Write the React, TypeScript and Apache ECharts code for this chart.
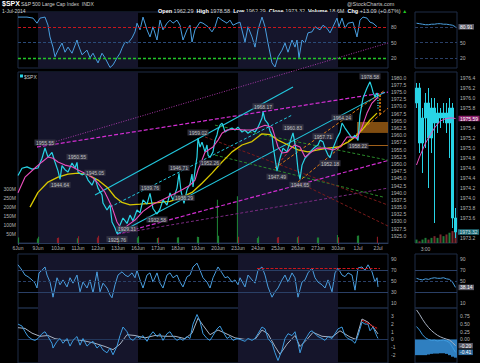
import React, { useEffect, useRef } from "react";
import * as echarts from "echarts";

// ---------- data ----------
const dayLabels = ["6Jun","9Jun","10Jun","11Jun","12Jun","13Jun","16Jun","17Jun","18Jun","19Jun","20Jun","23Jun","24Jun","25Jun","26Jun","27Jun","30Jun","1Jul","2Jul"];
const shadedWeeks: [number, number][] = [[1, 6], [11, 16]];

const priceSeries: [number, number][] = [
  [0,1946.0],[0.2,1948.5],[0.45,1949.0],[0.7,1948.2],[1.0,1948.6],[1.2,1952.0],[1.35,1955.55],[1.5,1952.4],[1.7,1954.0],[1.85,1950.7],
  [2.0,1947.6],[2.1,1944.64],[2.2,1949.4],[2.35,1948.0],[2.5,1947.2],[2.7,1950.3],[2.85,1948.6],[2.95,1950.55],[3.0,1947.2],[3.2,1946.2],
  [3.35,1946.8],[3.5,1944.4],[3.7,1942.6],[3.85,1945.05],[4.0,1941.6],[4.2,1939.2],[4.25,1936.4],[4.45,1934.0],[4.6,1935.7],[4.7,1929.8],
  [4.85,1927.7],[4.95,1925.76],[5.1,1928.8],[5.25,1931.2],[5.45,1929.31],[5.6,1932.2],[5.75,1930.2],[5.95,1934.0],[6.1,1933.0],[6.25,1937.5],
  [6.45,1936.0],[6.6,1939.76],[6.75,1934.5],[6.95,1932.58],[7.1,1934.3],[7.25,1937.5],[7.45,1935.7],[7.6,1939.9],[7.75,1937.5],[7.95,1941.6],
  [8.05,1946.71],[8.15,1940.5],[8.3,1936.29],[8.45,1941.0],[8.6,1943.0],[8.7,1946.5],[8.75,1942.0],[8.85,1947.9],[8.95,1952.4],[9.0,1959.02],
  [9.1,1955.9],[9.2,1957.6],[9.35,1954.2],[9.45,1956.6],[9.5,1953.1],[9.6,1952.26],[9.75,1954.2],[9.85,1958.3],[9.95,1960.1],[10.0,1961.8],
  [10.1,1963.5],[10.2,1964.2],[10.25,1963.5],[10.35,1961.1],[10.5,1961.8],[10.7,1962.5],[10.85,1961.8],[11.0,1962.8],[11.2,1961.1],[11.35,1961.8],
  [11.5,1960.7],[11.7,1961.8],[11.85,1961.1],[12.0,1962.8],[12.2,1966.0],[12.25,1968.17],[12.35,1965.3],[12.5,1964.0],[12.6,1961.5],[12.7,1960.0],
  [12.75,1956.6],[12.85,1952.0],[12.95,1947.49],[13.1,1952.0],[13.25,1955.5],[13.45,1954.2],[13.6,1957.6],[13.75,1960.83],[13.9,1955.0],[14.0,1948.0],
  [14.1,1944.65],[14.2,1949.6],[14.35,1952.0],[14.5,1953.1],[14.7,1954.9],[14.85,1955.9],[15.0,1956.6],[15.1,1958.3],[15.25,1957.71],[15.35,1955.5],
  [15.5,1953.1],[15.6,1952.18],[15.75,1955.5],[15.95,1959.0],[16.1,1961.0],[16.2,1964.24],[16.35,1962.5],[16.5,1961.0],[16.7,1959.0],[16.85,1960.0],
  [17.0,1958.22],[17.1,1967.0],[17.25,1972.9],[17.45,1976.4],[17.6,1978.58],[17.7,1976.4],[17.75,1975.0],[17.85,1973.3],[17.95,1974.7],[18.0,1973.32]
];
const maFast: [number, number][] = [
  [0,1940.0],[0.35,1945.4],[0.85,1948.6],[1.2,1950.7],[1.5,1952.4],[1.75,1952.0],[2.0,1950.7],[2.35,1949.6],[2.7,1949.0],[3.0,1947.9],
  [3.35,1946.8],[3.7,1945.4],[4.0,1943.3],[4.35,1940.1],[4.7,1935.0],[4.95,1929.8],[5.2,1927.0],[5.5,1928.7],[5.85,1930.5],[6.25,1933.5],
  [6.75,1936.0],[7.25,1937.6],[7.75,1939.4],[8.25,1941.2],[8.6,1942.6],[8.85,1944.4],[9.0,1947.9],[9.2,1951.4],[9.35,1954.1],[9.5,1954.8],
  [9.75,1955.9],[10.0,1958.3],[10.2,1960.7],[10.45,1961.8],[10.85,1962.1],[11.35,1961.8],[11.7,1961.8],[12.0,1962.5],[12.35,1963.5],[12.7,1962.8],
  [12.85,1959.4],[13.0,1955.9],[13.2,1953.8],[13.45,1954.1],[13.7,1955.9],[13.85,1956.6],[14.1,1955.9],[14.35,1952.4],[14.6,1953.8],[14.95,1955.5],
  [15.35,1955.5],[15.75,1954.9],[16.1,1955.9],[16.45,1959.4],[16.7,1959.4],[16.95,1959.0],[17.2,1962.8],[17.45,1967.7],[17.7,1971.2],[18.0,1973.3]
];
const maSlow: [number, number][] = [
  [0.6,1935.0],[1.0,1940.1],[1.5,1943.7],[2.0,1945.4],[2.5,1946.5],[3.0,1946.8],[3.5,1946.2],[4.0,1944.4],[4.5,1941.6],[4.85,1938.5],
  [5.2,1936.6],[5.6,1935.8],[6.1,1936.0],[6.6,1936.3],[7.1,1936.6],[7.6,1937.0],[8.1,1938.1],[8.7,1940.1],[9.2,1943.3],[9.7,1946.8],
  [10.2,1950.7],[10.7,1954.2],[11.2,1956.6],[11.7,1957.8],[12.2,1960.5],[12.6,1960.2],[13.0,1958.3],[13.5,1956.6],[14.0,1954.9],[14.5,1954.2],
  [15.0,1954.9],[15.5,1955.5],[16.0,1955.9],[16.5,1957.6],[16.85,1959.4],[17.2,1961.8],[17.6,1965.3],[17.95,1967.7]
];
const annoTimes = [1.35,2.1,2.95,3.85,4.95,5.45,6.6,6.95,8.05,8.3,9.0,9.6,12.25,12.95,13.75,14.1,15.25,15.6,16.2,17.0,17.6];
const annoPrices = [1955.55,1944.64,1950.55,1945.05,1925.76,1929.31,1939.76,1932.58,1946.71,1936.29,1959.02,1952.26,1968.17,1947.49,1960.83,1944.65,1957.71,1952.18,1964.24,1958.22,1978.58];
const annoAbove = [1,0,1,1,0,0,1,0,1,1,1,0,1,0,1,0,1,0,1,0,1];

const volTimes = [0.03,0.97,1.03,1.97,2.03,2.97,3.03,3.97,4.03,4.97,5.03,5.97,6.03,6.97,7.03,7.97,8.03,8.97,9.03,9.97,10.03,10.97,11.03,11.97,12.03,12.97,13.03,13.97,14.03,14.97,15.03,15.97,16.03,16.97,17.03,17.97];
const volValues = [30,25,35,28,30,26,38,30,40,35,36,30,38,28,30,30,32,35,34,240,40,260,35,28,36,30,34,32,38,30,30,45,32,40,42,35];
const volUp = [1,1,1,0,0,1,0,0,0,0,1,1,1,1,0,1,1,1,1,1,1,1,0,1,1,0,0,1,0,1,1,1,0,1,1,0];

const stochSeries: [number, number][] = [
  [0,100],[0.45,100],[0.75,98],[0.95,88],[1.1,98],[1.35,100],[1.5,84],[1.6,61],[1.75,41],[1.85,22],[2.0,35],[2.2,49],[2.35,31],[2.5,41],
  [2.7,29],[2.95,55],[3.0,47],[3.2,26],[3.45,35],[3.6,20],[3.75,29],[4.0,10],[4.2,29],[4.35,20],[4.6,1],[4.75,6],[4.95,20],[5.1,29],
  [5.2,39],[5.35,51],[5.5,49],[5.7,59],[5.85,71],[5.95,88],[6.1,75],[6.25,100],[6.45,75],[6.6,61],[6.75,81],[6.95,55],[7.1,94],[7.25,75],
  [7.45,88],[7.6,94],[7.75,88],[7.95,94],[8.1,84],[8.25,55],[8.45,75],[8.6,84],[8.7,51],[8.85,75],[9.1,90],[9.25,88],[9.5,81],[9.7,71],
  [9.85,81],[10.0,100],[10.2,94],[10.45,88],[10.6,94],[10.75,84],[10.95,88],[11.1,90],[11.35,51],[11.5,81],[11.7,61],[11.85,41],[12.0,75],
  [12.2,100],[12.35,81],[12.5,49],[12.7,10],[12.85,2],[13.0,22],[13.2,35],[13.35,49],[13.5,31],[13.7,55],[13.85,41],[13.95,55],[14.05,20],
  [14.2,55],[14.35,49],[14.5,69],[14.7,71],[14.85,81],[15.1,75],[15.25,84],[15.45,78],[15.6,69],[15.75,81],[15.95,98],[16.05,81],[16.2,98],
  [16.35,78],[16.5,88],[16.75,90],[16.95,61],[17.1,94],[17.25,100],[17.45,98],[17.6,90],[17.75,88],[17.95,81]
];
const rsiSeries: [number, number][] = [
  [0,80],[0.2,70],[0.35,61],[0.5,58],[0.7,52],[0.85,46],[0.95,37],[1.05,65],[1.2,70],[1.35,76],[1.45,61],[1.6,48],[1.7,30],[1.75,20],
  [1.95,56],[2.1,43],[2.25,52],[2.45,39],[2.6,56],[2.75,46],[2.95,61],[3.1,30],[3.25,48],[3.45,37],[3.6,52],[3.75,28],[3.95,67],[4.1,30],
  [4.25,46],[4.45,37],[4.6,24],[4.7,19],[4.85,43],[5.0,61],[5.2,67],[5.35,61],[5.5,58],[5.7,65],[5.85,56],[5.95,70],[6.1,52],[6.25,37],
  [6.45,61],[6.6,65],[6.75,48],[6.95,65],[7.1,46],[7.25,37],[7.45,61],[7.6,65],[7.75,56],[7.95,61],[8.1,48],[8.25,39],[8.45,58],[8.6,61],
  [8.75,76],[8.95,83],[9.1,70],[9.25,56],[9.45,48],[9.6,37],[9.75,56],[10.0,76],[10.2,65],[10.35,56],[10.5,58],[10.7,48],[10.85,52],[11.0,43],
  [11.1,56],[11.35,39],[11.5,61],[11.7,52],[11.85,46],[12.0,70],[12.2,76],[12.35,61],[12.5,39],[12.7,20],[12.85,30],[13.0,37],[13.2,52],
  [13.35,61],[13.5,48],[13.7,65],[13.85,56],[14.0,20],[14.2,48],[14.35,52],[14.5,65],[14.7,74],[14.85,56],[15.0,48],[15.2,43],[15.35,37],
  [15.5,52],[15.7,30],[15.85,65],[16.0,74],[16.2,61],[16.35,58],[16.5,65],[16.7,61],[16.85,33],[17.0,74],[17.2,76],[17.35,70],[17.5,80],
  [17.7,67],[17.85,48],[17.95,56],[18.0,39]
];
const rsiRedLevel = 74;
const rsiRedSpan: [number, number] = [11.95, 18.1];

const macdSeries: [number, number][] = [
  [0,1.95],[0.2,1.7],[0.35,0.98],[0.5,0.37],[0.7,0],[0.85,-0.12],[1.0,0.12],[1.2,0.73],[1.35,0.98],[1.5,0.37],[1.7,-0.49],[1.75,-1.1],
  [1.95,-0.24],[2.1,0.12],[2.25,-0.49],[2.45,0.12],[2.6,-0.85],[2.75,-0.12],[2.95,0.37],[3.1,-0.73],[3.25,0.12],[3.45,-0.85],[3.6,-0.49],
  [3.75,-0.24],[3.95,-1.1],[4.1,-0.73],[4.25,-1.34],[4.45,-1.7],[4.6,-1.1],[4.75,-1.95],[4.95,-0.85],[5.1,0.49],[5.25,1.58],[5.45,0.98],
  [5.6,0.12],[5.75,-0.12],[5.95,0.37],[6.1,0.12],[6.25,0.49],[6.45,-0.24],[6.6,0.49],[6.75,0.98],[6.95,0.37],[7.1,0.73],[7.25,-0.12],
  [7.45,0.73],[7.6,0.98],[7.75,0.37],[7.95,-0.12],[8.1,0.12],[8.25,-0.12],[8.45,0.37],[8.6,0.12],[8.75,1.95],[8.95,3.17],[9.1,2.32],
  [9.25,0.73],[9.45,0.12],[9.6,-0.12],[9.75,0.49],[9.95,1.34],[10.1,1.7],[10.25,0.98],[10.45,0.12],[10.6,0.37],[10.75,-0.12],[10.95,0.12],
  [11.1,0],[11.35,-0.24],[11.5,0.12],[11.7,-0.12],[11.85,0.12],[12.0,0.73],[12.2,1.58],[12.35,1.34],[12.5,0.12],[12.7,-0.49],[12.85,-1.7],
  [13.0,-2.68],[13.2,-1.34],[13.35,0.12],[13.5,0.73],[13.7,0.49],[13.85,0.98],[14.0,-0.49],[14.1,-1.7],[14.25,-0.49],[14.45,0.37],[14.6,0.98],
  [14.7,1.1],[14.85,0.73],[15.0,0.37],[15.2,0.12],[15.35,-0.12],[15.5,0.37],[15.7,0.12],[15.85,0.73],[16.0,1.34],[16.2,1.58],[16.35,0.49],
  [16.5,0.12],[16.7,-0.12],[16.85,-0.49],[17.0,0.49],[17.2,2.2],[17.35,1.95],[17.5,1.95],[17.6,1.1],[17.75,1.58],[17.95,0.37],[18.0,0.12]
];
const signalSeries: [number, number][] = [
  [0,1.5],[0.35,1.4],[0.7,0.8],[1.1,0.4],[1.5,0.5],[1.85,0.1],[2.35,-0.1],[2.85,0],[3.35,-0.2],[3.85,-0.5],[4.35,-0.9],[4.75,-1.3],
  [5.1,-0.6],[5.45,0.6],[5.85,0.5],[6.35,0.2],[6.85,0.5],[7.35,0.4],[7.85,0.4],[8.35,0.1],[8.7,0.8],[9.0,2.7],[9.25,1.8],[9.6,0.6],
  [10.0,1.2],[10.35,0.8],[10.85,0.2],[11.35,0],[11.85,0],[12.2,1.2],[12.5,0.7],[12.85,-0.9],[13.1,-1.9],[13.45,-0.6],[13.85,0.5],[14.1,-0.9],
  [14.45,0],[14.75,0.9],[15.2,0.4],[15.7,0.3],[16.1,1.1],[16.6,0.3],[16.9,0],[17.2,2.6],[17.5,2.2],[17.75,1.6],[18.0,0.7]
];
const macdRedSeg = [[17.2, 2.44, 18.0, 1.34]];

// trend lines: [t1, p1, t2, p2]
const trendMagentaDotted = [[0.95, 1955.9, 18.5, 1992.1]];
const trendMagentaDashed = [[0.95, 1955.9, 18.5, 1975.0], [4.95, 1925.6, 18.5, 1951.2]];
const trendPurple = [[4.95, 1925.6, 18.5, 1941.6]];
const trendCyanSolid = [[3.85, 1939.2, 13.75, 1976.8], [4.95, 1925.6, 18.35, 1975.0]];
const trendCyanDashed = [[4.6, 1935.0, 13.7, 1967.0]];
const trendGreen = [[9.85, 1963.5, 18.5, 1951.3], [9.85, 1953.1, 18.25, 1938.5]];
const trendDarkRed = [[9.35, 1959.4, 18.5, 1935.7], [14.1, 1943.3, 18.5, 1928.4]];
const trendRed = [[12.85, 1948.6, 14.0, 1958.3]];
const trendOrange = [[14.0, 1943.7, 18.5, 1969.4], [12.85, 1948.6, 18.35, 1975.7]];
const trendOrangeVert = [[18.1, 1974.0, 18.1, 1967.0]];
const trendCyanVert = [[18.0, 1974.0, 18.0, 1969.0]];
const bandRange = { t1: 16.95, t2: 18.5, low: 1960.8, high: 1964.6 };
const pivotLevel = { t1: 16.85, t2: 18.5, price: 1956.6 };

const priceTicks = [1925,1927.5,1930,1932.5,1935,1937.5,1940,1942.5,1945,1947.5,1950,1952.5,1955,1957.5,1960,1962.5,1965,1967.5,1970,1972.5,1975,1977.5,1980];
const volTicks = [50,100,150,200,250,300];
const stochTicks = [20,50,80];
const rsiTicks = [10,30,50,70,90];
const macdTicks = [-2,-1,0,1,2,3];

// mini (last session) panels
const miniTimes = ["2:45","2:50","2:55","3:00","3:05","3:10","3:15","3:20","3:25","3:30","3:35","3:40","3:45","3:50"];
const miniOHLC = [
  [1975.9,1976.2,1975.8,1976.3],[1976.2,1975.1,1974.9,1976.3],[1975.1,1975.6,1974.5,1975.8],[1975.6,1975.9,1975.0,1976.1],
  [1975.9,1975.2,1974.2,1976.2],[1975.2,1975.8,1974.9,1976.0],[1975.8,1975.5,1973.5,1976.0],[1975.5,1975.7,1975.3,1975.9],
  [1975.7,1975.6,1975.4,1975.8],[1975.6,1975.7,1975.5,1975.9],[1975.7,1975.5,1975.3,1975.9],[1975.5,1975.8,1974.8,1976.0],
  [1975.8,1973.6,1973.4,1975.9],[1973.6,1973.32,1973.2,1973.8]
];
const miniClose = 1973.32;
const miniMA = [1974.66,1974.82,1974.96,1975.1,1975.2,1975.3,1975.4,1975.48,1975.54,1975.57,1975.59,1975.6,1975.6,1975.59];
const miniVol = [2,1,2,3,2,3,4,3,5,4,5,6,7,10];
const miniVolUp = [1,0,1,1,0,1,0,1,0,1,0,1,0,0];
// labels hidden behind the last-value boxes are left out (1975.6, 1973.4)
const miniPriceTicks = [1973.2,1973.6,1973.8,1974.0,1974.2,1974.4,1974.6,1974.8,1975.0,1975.2,1975.4,1975.8,1976.0,1976.2,1976.4];
const miniStoch = [88,87,86,85,85,86,86,87,87,86,86,85,84,80.91];
const miniStochTicks = [20,50];
const miniRsi = [55,53,52,54,53,55,56,55,55,56,54,53,48,38.14];
const miniRsiTicks = [10,50,70,90];
const miniMacd = [0.41,0.3,0.15,0.05,0,-0.03,-0.02,-0.05,-0.03,-0.02,-0.05,-0.1,-0.25,-0.41];
const miniSignal = [0.94,0.8,0.64,0.5,0.38,0.28,0.2,0.13,0.08,0.04,0.01,-0.02,-0.1,-0.2];
const miniHist = [-0.5,-0.5,-0.5,-0.5,-0.48,-0.46,-0.45,-0.45,-0.44,-0.44,-0.46,-0.5,-0.55,-0.58];
const miniMacdTicks = [0, 0.25, 0.5, 0.75];

// ---------- styling ----------
const FONT = '"Liberation Sans", Arial, sans-serif';
const AXIS_TEXT = "#b4b4b4";
const BORDER = "#1f2c47";
const SHADE = "#15152b";
const CYAN = "#28d4e6";
const PINK = "#ec4fbe";
const YELLOW = "#d9c800";
const BLUE = "#4a9fe0";

const axisText = { fontSize: 5, color: AXIS_TEXT, fontFamily: FONT };

function yRight(grid: number, min: number, max: number, values: number[], fmt: (v: number) => string) {
  return {
    type: "value", gridIndex: grid, position: "right", min, max,
    axisLine: { show: false }, axisTick: { show: false }, splitLine: { show: false },
    axisLabel: { ...axisText, margin: 3, customValues: values, formatter: fmt },
  };
}
function xHidden(grid: number) {
  return { type: "value", gridIndex: grid, min: 0, max: 18.5, show: false };
}
function xMini(grid: number, showLabel = false) {
  return {
    type: "category", gridIndex: grid, data: miniTimes, boundaryGap: true,
    axisLine: { show: false }, axisTick: { show: false }, splitLine: { show: false },
    axisLabel: { show: showLabel, ...axisText, margin: 3, interval: (_i: number, v: string) => v === "3:00" },
  };
}
function shade(xi: number, yi: number) {
  return {
    type: "line", xAxisIndex: xi, yAxisIndex: yi, data: [], silent: true, z: 0,
    markArea: { silent: true, itemStyle: { color: SHADE }, data: shadedWeeks.map(([a, b]) => [{ xAxis: a }, { xAxis: b }]) },
  };
}
function segs(list: number[][], color: string, type: any, width: number, clip = true) {
  return list.map((s) => ({
    type: "line", xAxisIndex: 1, yAxisIndex: 1, data: [[s[0], s[1]], [s[2], s[3]]],
    symbol: "none", clip, silent: true, z: 3, lineStyle: { color, type, width },
  }));
}
function line(xi: number, yi: number, data: any[], color: string, width: number, z = 4) {
  return { type: "line", xAxisIndex: xi, yAxisIndex: yi, data, symbol: "none", silent: true, z, lineStyle: { color, width } };
}
const boxLabel = (bg: string, color = "#fff") => ({
  show: true, fontSize: 5, fontFamily: FONT, color, backgroundColor: bg, padding: [0.5, 1.5, 0, 1.5], distance: 3,
});

function buildOption() {
  const grid = [
    { left: 18, top: 12, width: 370, height: 56 },
    { left: 18, top: 72, width: 370, height: 171 },
    { left: 18, top: 254, width: 370, height: 54 },
    { left: 18, top: 308, width: 370, height: 57.4 },
    { left: 415, top: 12, width: 42, height: 56 },
    { left: 415, top: 72, width: 42, height: 171 },
    { left: 415, top: 254, width: 42, height: 54 },
    { left: 415, top: 308, width: 42, height: 59.5 },
  ].map((g) => ({ ...g, show: true, borderColor: BORDER, borderWidth: 1, backgroundColor: "transparent" }));

  const xAxis = [
    xHidden(0),
    {
      type: "value", gridIndex: 1, min: 0, max: 18.5,
      axisLine: { show: true, lineStyle: { color: "#2a3a5a" } },
      axisTick: { show: true, length: 2, customValues: dayLabels.map((_, i) => i), lineStyle: { color: "#3a4a6a" } },
      splitLine: { show: false },
      axisLabel: { ...axisText, margin: 2, customValues: dayLabels.map((_, i) => i), formatter: (v: number) => dayLabels[Math.round(v)] },
    },
    xHidden(2), xHidden(3),
    xMini(4), xMini(5, true), xMini(6), xMini(7),
  ];

  const yAxis = [
    yRight(0, 0, 110, stochTicks, (v) => String(v)),
    yRight(1, 1922.5, 1982, priceTicks, (v) => v.toFixed(1)),
    {
      type: "value", gridIndex: 1, position: "left", min: 0, max: 950,
      axisLine: { show: false }, axisTick: { show: false }, splitLine: { show: false },
      axisLabel: { ...axisText, margin: 2, customValues: volTicks, formatter: (v: number) => v + "M" },
    },
    yRight(2, 0, 100, rsiTicks, (v) => String(v)),
    yRight(3, -3, 4, macdTicks, (v) => String(v)),
    yRight(4, 0, 110, miniStochTicks, (v) => String(v)),
    yRight(5, 1973.1, 1976.52, miniPriceTicks, (v) => v.toFixed(1)),
    { type: "value", gridIndex: 5, min: 0, max: 100, show: false },
    yRight(6, 0, 100, miniRsiTicks, (v) => String(v)),
    yRight(7, -0.75, 1.0, miniMacdTicks, (v) => v.toFixed(2)),
  ];

  const hLine = (y: number, color: string, type: any, width = 1) => ({ yAxis: y, lineStyle: { color, type, width } });

  const series: any[] = [
    shade(0, 0), shade(1, 1), shade(2, 3), shade(3, 4),
    {
      ...line(0, 0, stochSeries, BLUE, 1),
      markLine: {
        silent: true, symbol: "none", label: { show: false },
        data: [hLine(80, "#c8161c", [3, 2], 1), hLine(50, "#2a4a78", [3, 2], 1), hLine(20, "#22c428", [3, 2], 1.3)],
      },
    },
    {
      type: "bar", xAxisIndex: 1, yAxisIndex: 2, barWidth: 1, silent: true, z: 2,
      data: volTimes.map((t, i) => ({ value: [t, volValues[i]], itemStyle: { color: volUp[i] ? "#1f8a38" : "#9a1e28" } })),
    },
    {
      type: "line", xAxisIndex: 1, yAxisIndex: 1, data: [], silent: true, z: 1,
      markArea: { silent: true, itemStyle: { color: "rgba(150,90,20,0.85)" }, data: [[{ coord: [bandRange.t1, bandRange.high] }, { coord: [bandRange.t2, bandRange.low] }]] },
      markLine: { silent: true, symbol: "none", label: { show: false }, lineStyle: { color: "#a0601a", type: "solid", width: 1 },
        data: [[{ coord: [pivotLevel.t1, pivotLevel.price] }, { coord: [pivotLevel.t2, pivotLevel.price] }]] },
    },
    ...segs(trendMagentaDotted, "#b83cb8", [1, 1.5], 0.9, false),
    ...segs(trendMagentaDashed, "#d22ed2", [4, 2], 1.2),
    ...segs(trendPurple, "#7a2a80", [3, 2], 1),
    ...segs(trendCyanSolid, "#22c6dc", "solid", 1.1),
    ...segs(trendCyanDashed, "#22c6dc", [3, 2], 1),
    ...segs(trendGreen, "#2a8a2a", [3, 2], 1),
    ...segs(trendDarkRed, "#7a1a1a", [3, 2], 1),
    ...segs(trendRed, "#d02020", [3, 2], 1),
    ...segs(trendOrange, "#e07a12", [3, 2], 1),
    ...segs(trendOrangeVert, "#f08a10", [2, 1.5], 1.6),
    ...segs(trendCyanVert, "#28d4e6", [1, 1.5], 1.4),
    line(1, 1, maSlow, YELLOW, 1.3, 5),
    line(1, 1, priceSeries, CYAN, 1.2, 6),
    line(1, 1, maFast, PINK, 1.1, 7),
    {
      type: "scatter", xAxisIndex: 1, yAxisIndex: 1, symbolSize: 1, silent: true, z: 10,
      itemStyle: { color: "transparent" },
      data: annoTimes.map((t, i) => ({ value: [t, annoPrices[i]], label: { position: annoAbove[i] ? "top" : "bottom" } })),
      label: {
        show: true, fontSize: 5, fontFamily: FONT, color: "#e0e0e0", backgroundColor: "#3a3a48",
        padding: [1, 1.5, 0, 1.5], distance: 2, formatter: (p: any) => p.value[1].toFixed(2),
      },
    },
    {
      ...line(2, 3, rsiSeries, BLUE, 1),
      markLine: {
        silent: true, symbol: "none", label: { show: false },
        data: [
          hLine(70, "#2a3f66", "solid", 1), hLine(30, "#2a3f66", "solid", 1), hLine(50, "#2a3f66", [3, 2], 1),
          [{ coord: [rsiRedSpan[0], rsiRedLevel], lineStyle: { color: "#c8161c", type: [3, 1.5], width: 1 } }, { coord: [rsiRedSpan[1], rsiRedLevel] }],
        ],
      },
    },
    {
      ...line(3, 4, signalSeries, "#a8b2c2", 1, 4),
      markLine: { silent: true, symbol: "none", label: { show: false }, data: [hLine(0, "#22365a", "solid", 1)] },
    },
    line(3, 4, macdSeries, "#3d9be0", 1, 5),
    ...macdRedSeg.map((s) => ({
      type: "line", xAxisIndex: 3, yAxisIndex: 4, data: [[s[0], s[1]], [s[2], s[3]]], symbol: "none", silent: true, z: 6,
      lineStyle: { color: "#d01a1a", type: [2, 1], width: 1.2 },
    })),
    {
      ...line(4, 5, miniStoch, BLUE, 1),
      markLine: { silent: true, symbol: "none", label: { show: false },
        data: [hLine(80, "#2a3f66", [3, 2], 1), hLine(50, "#2a3f66", [3, 2], 1), hLine(20, "#2a3f66", [3, 2], 1)] },
      endLabel: { ...boxLabel("#5a5a66"), formatter: (p: any) => Number(p.value).toFixed(2) },
    },
    {
      type: "bar", xAxisIndex: 5, yAxisIndex: 7, barWidth: 2, silent: true, z: 2,
      data: miniVol.map((v, i) => ({ value: v, itemStyle: { color: miniVolUp[i] ? "#1f7a38" : "#7a2a30" } })),
    },
    {
      type: "candlestick", xAxisIndex: 5, yAxisIndex: 6, data: miniOHLC, barWidth: 2, silent: true, z: 4,
      itemStyle: { color: CYAN, color0: CYAN, borderColor: CYAN, borderColor0: CYAN, borderWidth: 1 },
    },
    {
      ...line(5, 6, miniMA, PINK, 1, 5),
      endLabel: { ...boxLabel("#8a1f6a"), formatter: (p: any) => Number(p.value).toFixed(2) },
    },
    {
      type: "scatter", xAxisIndex: 5, yAxisIndex: 6, symbolSize: 1, silent: true, z: 8, itemStyle: { color: "transparent" },
      data: [[miniTimes.length - 1, miniClose]],
      label: { ...boxLabel("#2b8c9c"), position: "right", distance: 2, formatter: (p: any) => p.value[1].toFixed(2) },
    },
    {
      ...line(6, 8, miniRsi, BLUE, 1),
      markLine: { silent: true, symbol: "none", label: { show: false },
        data: [hLine(70, "#2a3f66", "solid", 1), hLine(30, "#2a3f66", "solid", 1), hLine(50, "#2a3f66", [3, 2], 1)] },
      endLabel: { ...boxLabel("#5a5a66"), formatter: (p: any) => Number(p.value).toFixed(2) },
    },
    {
      type: "bar", xAxisIndex: 7, yAxisIndex: 9, barWidth: "100%", silent: true, z: 2,
      data: miniHist, itemStyle: { color: "#2f7fc0" },
    },
    {
      ...line(7, 9, miniSignal, "#a8b2c2", 1, 4),
      endLabel: { ...boxLabel("#5a5a66"), formatter: (p: any) => Number(p.value).toFixed(2) },
    },
    {
      ...line(7, 9, miniMacd, "#3d9be0", 1, 5),
      endLabel: { ...boxLabel("#2f6a9a"), formatter: (p: any) => Number(p.value).toFixed(2) },
    },
  ];

  const headerRich = {
    b: { fontWeight: "bold", fill: "#ffffff", fontSize: 5.5, fontFamily: FONT },
    n: { fill: "#d0d0d0", fontSize: 5.5, fontFamily: FONT },
    g: { fill: "#22cc22", fontSize: 5, fontFamily: FONT },
  };

  const graphic = [
    { type: "text", x: 2, y: 0, style: { text: "$SPX", fill: "#ffffff", fontSize: 7, fontWeight: "bold", fontFamily: FONT } },
    { type: "text", x: 21, y: 1.5, style: { text: "S&P 500 Large Cap Index  INDX", fill: "#d0d0d0", fontSize: 5, fontFamily: FONT } },
    { type: "text", x: 2, y: 8, style: { text: "1-Jul-2014", fill: "#d0d0d0", fontSize: 5, fontFamily: FONT } },
    { type: "text", x: 347, y: 1, style: { text: "@StockCharts.com", fill: "#c8c8c8", fontSize: 5.5, fontFamily: FONT } },
    {
      type: "text", x: 158, y: 7.5,
      style: {
        text: "{b|Open} {n|1962.29}  {b|High} {n|1978.58}  {b|Low} {n|1962.29}  {b|Close} {n|1973.32}  {b|Volume} {n|18.6M}  {b|Chg} {n|+13.09 (+0.67%)} {g|▲}",
        rich: headerRich, fontSize: 5.5, fontFamily: FONT, fill: "#d0d0d0",
      },
    },
    { type: "rect", shape: { x: 20, y: 74.5, width: 3, height: 3 }, style: { fill: CYAN } },
    { type: "text", x: 24, y: 74, style: { text: "$SPX (5 min) 1973.32", fill: "#c8c8c8", fontSize: 5, fontFamily: FONT } },
  ];

  return {
    animation: false,
    backgroundColor: "#000000",
    textStyle: { fontFamily: FONT },
    grid, xAxis, yAxis, series, graphic,
  };
}

export default function App() {
  const ref = useRef<HTMLDivElement>(null);
  useEffect(() => {
    document.body.style.margin = "0";
    document.body.style.background = "#000";
    const chart = echarts.init(ref.current!, null, { renderer: "svg" });
    chart.setOption(buildOption() as any);
    return () => chart.dispose();
  }, []);
  return <div ref={ref} style={{ position: "absolute", left: 0, top: 0, width: 480, height: 363, background: "#000" }} />;
}
